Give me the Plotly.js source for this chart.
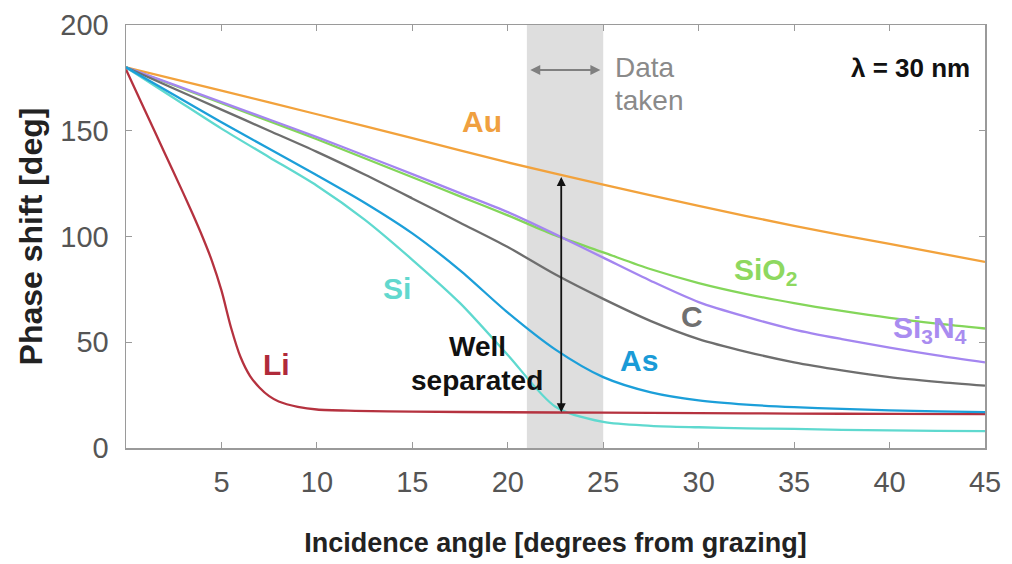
<!DOCTYPE html>
<html>
<head>
<meta charset="utf-8">
<script src="https://cdn.plot.ly/plotly-3.0.1.min.js"></script>
<style>
  html, body { margin: 0; padding: 0; background: #ffffff; }
  #chart { width: 1012px; height: 564px; }
</style>
</head>
<body>
<div id="chart"></div>
<script>
// ---- Data ----
const AU_X = [0, 5, 10, 15, 20, 25, 30, 35, 40, 45];
const AU_Y = [180, 169, 157.8, 146.5, 135, 124.5, 114.5, 105, 96.5, 88];

const SIO2_X = [0, 2.5, 5, 7.5, 10, 12.5, 15, 17.5, 20, 22.5, 25, 27.5, 30, 32.5, 35, 37.5, 40, 42.5, 45];
const SIO2_Y = [180, 171.5, 163, 154.5, 146, 137, 128, 119, 110, 100.5, 92.5, 84.5, 78, 72.8, 68.5, 64.8, 61.5, 58.8, 56.5];

const SI3N4_X = [0, 2.5, 5, 7.5, 10, 12.5, 15, 17.5, 20, 22.5, 25, 27.5, 30, 32.5, 35, 37.5, 40, 42.5, 45];
const SI3N4_Y = [180, 171.8, 163.5, 155.3, 147, 138.3, 129.5, 120.5, 111.5, 101, 90, 79, 69, 62, 56, 51.5, 47.5, 43.8, 40.5];

const C_X = [0, 2.5, 5, 7.5, 10, 12.5, 15, 17.5, 20, 22.5, 25, 27.5, 30, 32.5, 35, 37.5, 40, 42.5, 45];
const C_Y = [180, 170, 160, 150, 140, 129.3, 118, 106.5, 95, 82, 70.5, 60, 51.5, 45.5, 40.5, 36.7, 33.5, 31.3, 29.5];

const AS_X = [0, 2.5, 5, 7.5, 10, 12.5, 15, 17.5, 20, 22.5, 25, 27.5, 30, 32.5, 35, 37.5, 40, 42.5, 45];
const AS_Y = [180, 167, 154, 141.5, 129, 116, 101.5, 84, 64, 46.5, 33.5, 26.3, 22.5, 20.5, 19.3, 18.5, 17.8, 17.3, 17];

const SI_X = [0, 2.5, 5, 7.5, 10, 12.5, 15, 17.5, 20, 22.5, 25, 27.5, 30, 32.5, 35, 37.5, 40, 42.5, 45];
const SI_Y = [180, 165.5, 151, 137.5, 124, 108, 89, 68.5, 44, 19.5, 12.3, 10.5, 9.8, 9.3, 9, 8.6, 8.3, 8.1, 8];

const LI_X = [0, 1, 2, 3, 3.5, 4, 4.5, 5, 5.5, 6, 6.5, 7, 7.5, 8, 9, 10, 12, 15, 20, 25, 30, 35, 40, 45];
const LI_Y = [179, 159.5, 140, 120.5, 110.5, 100, 88.5, 74.5, 57, 43, 34, 28.5, 24.5, 22, 19.5, 18.2, 17.6, 17.2, 16.9, 16.7, 16.5, 16.3, 16.1, 16];

const X_TICKS = [5, 10, 15, 20, 25, 30, 35, 40, 45];
const Y_TICKS = [0, 50, 100, 150, 200];
const DATA_TAKEN = [21, 25];
const SEPARATION = {x: 22.8, top: 128.8, bottom: 16.9};
const WAVELENGTH_LABEL = "λ = 30 nm";

// ---- Styling ----
const REG = "Liberation Sans, Arial, sans-serif";

function line(x, y, color, name) {
  return {x: x, y: y, type: 'scatter', mode: 'lines', name: name,
          line: {color: color, width: 2.3, shape: 'spline', smoothing: 0.8},
          hoverinfo: 'skip'};
}

const traces = [
  line(AU_X, AU_Y, '#F2A23C', 'Au'),
  line(SIO2_X, SIO2_Y, '#84D65A', 'SiO2'),
  line(SI3N4_X, SI3N4_Y, '#A486F0', 'Si3N4'),
  line(C_X, C_Y, '#6E6E6E', 'C'),
  line(SI_X, SI_Y, '#5FD9CF', 'Si'),
  line(LI_X, LI_Y, '#B5323F', 'Li'),
  line(AS_X, AS_Y, '#1C9FD9', 'As')
];

function lab(text, x, y, color, size, opts) {
  return Object.assign({
    text: text, x: x, y: y, xref: 'x', yref: 'y', showarrow: false,
    xanchor: 'center', yanchor: 'middle',
    font: {family: REG, size: size || 30, color: color, weight: 'bold'}
  }, opts || {});
}

const annotations = [
  lab('Au', 18.63, 154.3, '#F0A040'),
  lab('Si', 14.2, 75.6, '#62D8CE'),
  lab('Li', 7.9, 39.7, '#B02A3A'),
  lab('As', 26.87, 41.6, '#1A9BD7'),
  lab('C', 29.65, 62.4, '#707070'),
  lab('SiO<sub>2</sub>', 33.5, 83.5, '#8ED860'),
  lab('Si<sub>3</sub>N<sub>4</sub>', 42.1, 56.0, '#A98CF0'),
  lab('Well', 18.4, 47.8, '#111111', 28),
  lab('separated', 18.4, 31.8, '#111111', 28),
  lab(WAVELENGTH_LABEL, 44.3, 179.7, '#111111', 26, {xanchor: 'right'}),
  {text: 'Data', x: 25.5, y: 180.0, xref: 'x', yref: 'y', showarrow: false, xanchor: 'left', yanchor: 'middle',
   font: {family: REG, size: 28, color: '#8A8A8A'}},
  {text: 'taken', x: 25.5, y: 164.5, xref: 'x', yref: 'y', showarrow: false, xanchor: 'left', yanchor: 'middle',
   font: {family: REG, size: 28, color: '#8A8A8A'}},
  // Data taken double arrow
  {x: DATA_TAKEN[1] - 0.15, y: 178.7, ax: DATA_TAKEN[0] + 0.1, ay: 178.7, xref: 'x', yref: 'y', axref: 'x', ayref: 'y',
   text: '', showarrow: true, arrowhead: 2, arrowside: 'end+start', arrowsize: 1, arrowwidth: 2, arrowcolor: '#808080'},
  // Well separated arrow
  {x: SEPARATION.x, y: SEPARATION.bottom, ax: SEPARATION.x, ay: SEPARATION.top, xref: 'x', yref: 'y', axref: 'x', ayref: 'y',
   text: '', showarrow: true, arrowhead: 2, arrowside: 'end+start', arrowsize: 1, arrowwidth: 1.8, arrowcolor: '#111111'}
];

const axisCommon = {
  showgrid: false, zeroline: false, showline: true, linecolor: '#9A9A9A', linewidth: 1.5,
  mirror: 'ticks', ticks: 'inside', ticklen: 6, tickwidth: 1.2, tickcolor: '#9A9A9A',
  tickfont: {family: REG, size: 29, color: '#555555'}
};

const layout = {
  width: 1012, height: 564,
  margin: {l: 126, r: 27, t: 25, b: 116},
  paper_bgcolor: '#ffffff', plot_bgcolor: '#ffffff',
  showlegend: false,
  xaxis: Object.assign({}, axisCommon, {
    range: [0, 45], tickvals: X_TICKS, ticktext: X_TICKS.map(String), ticklabelstandoff: 8,
    title: {text: 'Incidence angle [degrees from grazing]', standoff: 36,
            font: {family: REG, size: 27, color: '#222222', weight: 'bold'}}
  }),
  yaxis: Object.assign({}, axisCommon, {
    range: [0, 200], tickvals: Y_TICKS, ticktext: Y_TICKS.map(String), ticklabelstandoff: 10,
    title: {text: 'Phase shift [deg]', standoff: 8,
            font: {family: REG, size: 32, color: '#222222', weight: 'bold'}}
  }),
  shapes: [
    {type: 'rect', xref: 'x', yref: 'paper', x0: DATA_TAKEN[0], x1: DATA_TAKEN[1], y0: 0, y1: 1,
     fillcolor: '#DEDEDE', line: {width: 0}, layer: 'below'}
  ],
  annotations: annotations
};

Plotly.newPlot('chart', traces, layout, {displayModeBar: false, staticPlot: true});
</script>
</body>
</html>
